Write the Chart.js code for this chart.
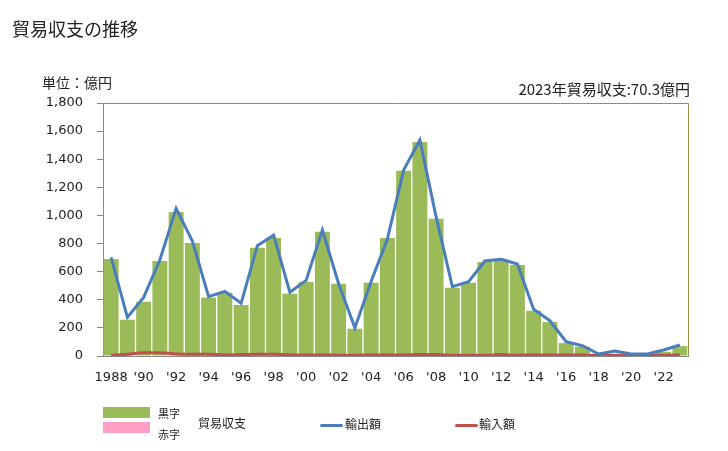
<!DOCTYPE html>
<html lang="ja">
<head>
    <meta charset="UTF-8">
    <title>貿易収支の推移</title>
    <style>
        body {
            margin: 0;
            width: 728px;
            height: 451px;
            position: relative;
            background: #fff;
            font-family: "Noto Sans CJK JP", sans-serif;
            color: #222;
            overflow: hidden;
        }
        #wrap {
            position: absolute;
            left: 0;
            top: 0;
            width: 728px;
            height: 451px;
        }
        .txt {
            position: absolute;
            white-space: nowrap;
            line-height: 1;
        }
        .box {
            position: absolute;
            width: 47px;
            height: 11px;
        }
        .ln {
            position: absolute;
            width: 23px;
            height: 3px;
            border-radius: 2px;
        }
    </style>
    <script src="https://cdn.jsdelivr.net/npm/chart.js"></script>
</head>
<body>
<div id="wrap"><canvas id="tradeChart" width="728" height="451"></canvas></div>

<div class="txt" style="left:12px;top:19px;font-size:18px;">貿易収支の推移</div>
<div class="txt" style="left:42px;top:75px;font-size:14px;">単位：億円</div>
<div class="txt" style="right:38px;top:81px;font-size:15px;">2023年貿易収支:70.3億円</div>

<div class="box" style="left:103px;top:407px;background:#9bbb59;"></div>
<div class="box" style="left:103px;top:422px;background:#ff9fc6;"></div>
<div class="txt" style="left:158px;top:408px;font-size:11px;">黒字</div>
<div class="txt" style="left:158px;top:429px;font-size:11px;">赤字</div>
<div class="txt" style="left:198px;top:417px;font-size:12px;">貿易収支</div>
<div class="ln" style="left:320px;top:424px;background:#4a7ebb;"></div>
<div class="txt" style="left:345px;top:418px;font-size:12px;">輸出額</div>
<div class="ln" style="left:455px;top:424px;background:#c0504d;"></div>
<div class="txt" style="left:479px;top:418px;font-size:12px;">輸入額</div>

<script>
    const years = [1988, 1989, 1990, 1991, 1992, 1993, 1994, 1995, 1996, 1997, 1998, 1999,
        2000, 2001, 2002, 2003, 2004, 2005, 2006, 2007, 2008, 2009, 2010, 2011,
        2012, 2013, 2014, 2015, 2016, 2017, 2018, 2019, 2020, 2021, 2022, 2023];
    const tickLabels = ['1988', '', "'90", '', "'92", '', "'94", '', "'96", '', "'98", '',
        "'00", '', "'02", '', "'04", '', "'06", '', "'08", '', "'10", '',
        "'12", '', "'14", '', "'16", '', "'18", '', "'20", '', "'22", ''];
    // 貿易収支 (億円)
    const balance = [690, 258, 386, 676, 1024, 804, 415, 450, 363, 770, 839, 443,
        526, 884, 514, 194, 521, 839, 1318, 1522, 977, 486, 521, 669,
        683, 647, 322, 242, 92, 66, 4, 10, 4, 6, 30, 70.3];
    // 輸出額
    const exportsVal = [702, 275, 417, 683, 1050, 818, 422, 460, 375, 785, 860, 453,
        538, 896, 514, 201, 530, 832, 1323, 1536, 990, 493, 528, 676,
        688, 654, 332, 251, 102, 73, 14, 36, 14, 14, 43, 78];
    // 輸入額
    const importsVal = [4, 12, 24, 24, 14, 12, 12, 8, 10, 12, 12, 8,
        8, 8, 6, 6, 8, 8, 8, 10, 10, 6, 5, 5,
        10, 6, 8, 8, 8, 7, 5, 5, 5, 5, 5, 8];

    const balanceColors = balance.map(v => v >= 0 ? '#9bbb59' : '#ff9fc6');

    // 枠線 (上・右)
    const frame = {
        id: 'frame',
        afterDraw(chart) {
            const a = chart.chartArea;
            const c = chart.ctx;
            c.save();
            c.strokeStyle = '#9c8f4a';
            c.lineWidth = 1;
            c.beginPath();
            c.moveTo(a.left, a.top + 0.5);
            c.lineTo(a.right + 0.5, a.top + 0.5);
            c.lineTo(a.right + 0.5, a.bottom);
            c.stroke();
            c.restore();
        }
    };

    new Chart(document.getElementById('tradeChart'), {
        data: {
            labels: years,
            datasets: [
                {
                    type: 'line',
                    label: '輸出額',
                    data: exportsVal,
                    borderColor: '#4a7ebb',
                    borderWidth: 3,
                    pointRadius: 0,
                    tension: 0,
                    order: 1
                },
                {
                    type: 'line',
                    label: '輸入額',
                    data: importsVal,
                    borderColor: '#c0504d',
                    borderWidth: 3,
                    pointRadius: 0,
                    cubicInterpolationMode: 'monotone',
                    order: 2
                },
                {
                    type: 'bar',
                    label: '貿易収支',
                    data: balance,
                    backgroundColor: balanceColors,
                    categoryPercentage: 1,
                    barPercentage: 0.92,
                    order: 3
                }
            ]
        },
        options: {
            responsive: false,
            animation: false,
            layout: {
                padding: {top: 103, right: 40, left: 0, bottom: 64}
            },
            plugins: {
                legend: {display: false},
                tooltip: {enabled: false}
            },
            scales: {
                x: {
                    grid: {display: false, drawTicks: false},
                    border: {color: '#898989'},
                    ticks: {
                        autoSkip: false,
                        maxRotation: 0,
                        padding: 14,
                        color: '#222',
                        font: {family: 'DejaVu Sans', size: 13},
                        callback: (v, i) => tickLabels[i]
                    },
                    afterFit: s => { s.height = 31; }
                },
                y: {
                    min: 0,
                    max: 1800,
                    grid: {drawOnChartArea: false, tickLength: 6, color: '#898989'},
                    border: {color: '#898989'},
                    ticks: {
                        stepSize: 200,
                        padding: 14,
                        color: '#222',
                        font: {family: 'DejaVu Sans', size: 13},
                        callback: v => v.toLocaleString('en-US')
                    },
                    afterFit: s => { s.width = 103; }
                }
            }
        },
        plugins: [frame]
    });
</script>
</body>
</html>
